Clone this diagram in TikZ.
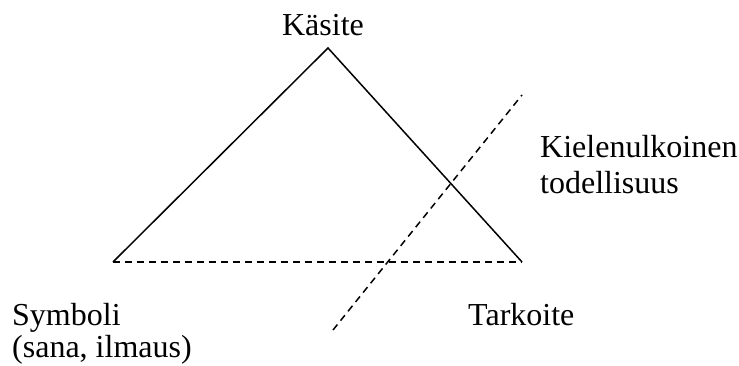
\documentclass[tikz,border=0pt]{standalone}
\usepackage{fontspec}
\setmainfont{Liberation Serif}
\begin{document}
\begin{tikzpicture}[x=1pt,y=1pt,
  lbl/.style={font=\fontsize{32}{37}\selectfont, inner sep=0pt},
  solidline/.style={line width=1.5pt, line join=miter},
  dashline/.style={line width=1.5pt, dash pattern=on 7pt off 5pt}]
\useasboundingbox (0,0) rectangle (739,365);
\coordinate (apex) at (328,317);
\coordinate (left) at (113,103);
\coordinate (right) at (522,103);
\coordinate (dlow) at (333,35);
\coordinate (dhigh) at (522,270);
\draw[solidline] (left) -- (apex) -- (right);
\draw[dashline] (left) -- (right);
\draw[dashline] (dlow) -- (dhigh);
\node[lbl, anchor=base] (kasite) at (323,329) {Käsite};
\node[lbl, anchor=base west] (kiel) at (540,208) {Kielenulkoinen};
\node[lbl, anchor=base west] (tod) at (540,172) {todellisuus};
\node[lbl, anchor=base west] (symb) at (12,40) {Symboli};
\node[lbl, anchor=base west] (sana) at (12,8) {(sana, ilmaus)};
\node[lbl, anchor=base west] (tark) at (468,40) {Tarkoite};
\end{tikzpicture}
\end{document}
